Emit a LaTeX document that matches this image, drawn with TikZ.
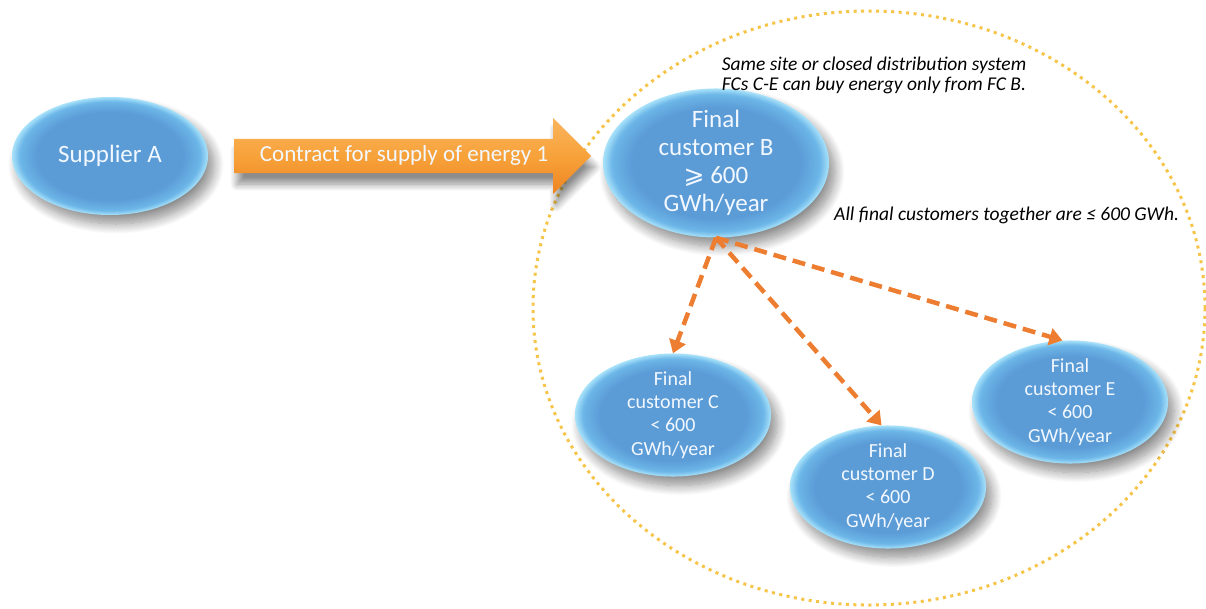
\documentclass[tikz,border=0pt]{standalone}
\usepackage{fontspec}
\setmainfont{Carlito}
\newfontfamily\symfont{DejaVu Sans}
\usetikzlibrary{shapes.geometric,shapes.arrows,shadows.blur,arrows.meta}
\definecolor{ellmain}{HTML}{5B9BD6}
\definecolor{ellmid}{HTML}{6CB6E8}
\definecolor{ellrim}{HTML}{A8E2FA}
\definecolor{ringgold}{HTML}{F6C448}
\definecolor{dashorange}{HTML}{ED7D31}
\definecolor{arrtop}{HTML}{FBB55E}
\definecolor{arrmid}{HTML}{F7A23A}
\definecolor{arrbot}{HTML}{EE8422}
\definecolor{textwhite}{HTML}{F2F8FF}
\pgfdeclareradialshading{ellglow}{\pgfpoint{0bp}{0bp}}{color(0bp)=(ellmain);color(18.5bp)=(ellmain);color(23bp)=(ellmid);color(25bp)=(ellrim);color(50bp)=(ellrim)}
\tikzset{
  bubble/.style={ellipse, shade, shading=ellglow, inner sep=0pt, text=textwhite, align=center,
    blur shadow={shadow xshift=6pt, shadow yshift=-9pt, shadow blur radius=10pt, shadow blur steps=14, shadow opacity=45}},
  smallbubble/.style={bubble, minimum width=196pt, minimum height=120pt, font=\fontsize{20}{23.3}\selectfont},
  contractarrow/.style={single arrow, single arrow head extend=21pt, minimum height=357pt,
    inner xsep=0pt, inner ysep=6.5pt, text height=16pt, text depth=5pt,
    top color=arrtop, bottom color=arrbot, middle color=arrmid, text=textwhite,
    font=\fontsize{23}{27}\selectfont,
    blur shadow={shadow xshift=3pt, shadow yshift=-11pt, shadow blur radius=7pt, shadow blur steps=12, shadow opacity=45}},
  dasharrow/.style={draw=dashorange, line width=4.5pt, dash pattern=on 13pt off 7pt,
    -{Triangle[width=17pt,length=13pt]}},
  ring/.style={draw=ringgold, line width=3pt, dash pattern=on 3pt off 4.5pt},
  note/.style={text=black, font=\fontsize{19.5}{20}\selectfont\itshape, align=center, inner sep=0pt}
}
\begin{document}
\begin{tikzpicture}[x=1pt,y=-1pt]
\useasboundingbox (0,0) rectangle (1206,608);
\draw[ring] (869,308) ellipse [x radius=336pt, y radius=297pt];
\node[bubble, minimum width=196pt, minimum height=118pt, font=\fontsize{25}{29}\selectfont] (A) at (110,156) {Supplier A};
\node[contractarrow, anchor=west] (contract) at (234,156) {Contract for supply of energy 1};
\node[bubble, minimum width=226pt, minimum height=120pt, font=\fontsize{25}{28}\selectfont] (B) at (716,163) {Final\\customer B\\{\symfont ⩾} 600\\GWh/year};
\node[smallbubble] (C) at (673,415) {Final\\customer C\\< 600\\GWh/year};
\node[smallbubble] (D) at (888,487) {Final\\customer D\\< 600\\GWh/year};
\node[smallbubble] (E) at (1070,402) {Final\\customer E\\< 600\\GWh/year};
\node[note] (note1) at (874,75) {Same site or closed distribution system\\FCs C-E can buy energy only from FC B.};
\node[note, anchor=west] (note2) at (834,215) {All final customers together are ≤ 600 GWh.};
\draw[dasharrow] (B.south) -- (C.north);
\draw[dasharrow] (B.south) -- (D.96);
\draw[dasharrow] (B.south) -- (E.97);
\end{tikzpicture}
\end{document}
